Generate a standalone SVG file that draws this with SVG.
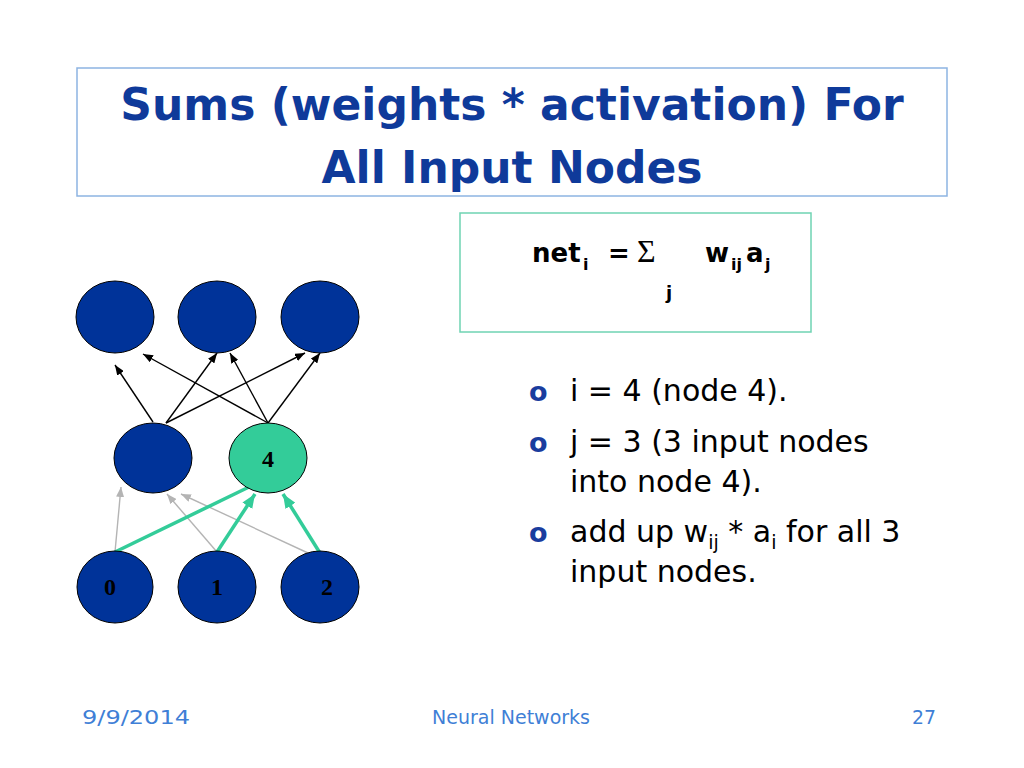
<svg xmlns="http://www.w3.org/2000/svg" width="1024" height="768" viewBox="0 0 1024 768">
<defs>
<style>
.title{font-family:"DejaVu Sans",sans-serif;font-weight:bold;font-size:44px;fill:#0f3a9a;text-anchor:middle}
.node{fill:#003399;stroke:#000;stroke-width:1}
.hot{fill:#33cc99;stroke:#000;stroke-width:1}
.lbl{font-family:"Liberation Serif",serif;font-weight:bold;font-size:24px;fill:#000;text-anchor:middle}
.blk{stroke:#000;stroke-width:1.4;fill:none;marker-end:url(#ab)}
.gry{stroke:#b4b4b4;stroke-width:1.4;fill:none;marker-end:url(#ag)}
.grn{stroke:#33cc99;stroke-width:3.5;fill:none}
.grnh{marker-end:url(#an)}
.f{font-family:"DejaVu Sans",sans-serif;font-weight:bold;fill:#000}
.b{font-family:"DejaVu Sans",sans-serif;font-size:30px;fill:#000}
.dot{font-family:"DejaVu Sans",sans-serif;font-weight:bold;font-size:27px;fill:#1a3d9e}
.ft{font-family:"DejaVu Sans",sans-serif;font-size:20px;fill:#3f7fd6}
</style>
<marker id="ab" viewBox="0 0 10 8" refX="10" refY="4" markerWidth="10" markerHeight="8" markerUnits="userSpaceOnUse" orient="auto"><path d="M0,0 L10,4 L0,8 z" fill="#000"/></marker>
<marker id="ag" viewBox="0 0 10 8" refX="10" refY="4" markerWidth="10" markerHeight="8" markerUnits="userSpaceOnUse" orient="auto"><path d="M0,0 L10,4 L0,8 z" fill="#b4b4b4"/></marker>
<marker id="an" viewBox="0 0 12 10" refX="12" refY="5" markerWidth="14" markerHeight="12" markerUnits="userSpaceOnUse" orient="auto"><path d="M0,0 L12,5 L0,10 z" fill="#33cc99"/></marker>
</defs>
<rect width="1024" height="768" fill="#fff"/>

<g id="title">
<rect x="77" y="68" width="870" height="128" fill="none" stroke="#8db4e2" stroke-width="1.5"/>
<text class="title" x="512" y="120">Sums (weights * activation) For</text>
<text class="title" x="512" y="183">All Input Nodes</text>
</g>

<g id="formula">
<rect x="460" y="213" width="351" height="119" fill="none" stroke="#6fd3b3" stroke-width="1.5"/>
<text class="f" x="532" y="262" font-size="26">net</text>
<text class="f" x="583" y="270" font-size="16">i</text>
<text class="f" x="608" y="262" font-size="26">=</text>
<text x="637" y="262" font-family="Liberation Serif,serif" font-size="32" fill="#000">Σ</text>
<text class="f" x="705" y="262" font-size="26">w</text>
<text class="f" x="731" y="270" font-size="16">ij</text>
<text class="f" x="746" y="262" font-size="26">a</text>
<text class="f" x="765" y="270" font-size="16">j</text>
<text class="f" x="666" y="299" font-size="18">j</text>
</g>

<g id="connectors">
<line class="blk" x1="153" y1="422" x2="115" y2="365"/>
<line class="blk" x1="166" y1="423" x2="217" y2="353"/>
<line class="blk" x1="166" y1="423" x2="305" y2="353"/>
<line class="blk" x1="268" y1="423" x2="143" y2="354"/>
<line class="blk" x1="268" y1="423" x2="230" y2="353"/>
<line class="blk" x1="268" y1="423" x2="320" y2="353"/>
<line class="gry" x1="115" y1="552" x2="121" y2="487"/>
<line class="gry" x1="217" y1="552" x2="167" y2="494"/>
<line class="gry" x1="308" y1="553" x2="181" y2="494"/>
<line class="grn" x1="115" y1="552" x2="249" y2="487"/>
<line class="grn grnh" x1="217" y1="552" x2="255" y2="494"/>
<line class="grn grnh" x1="320" y1="553" x2="283" y2="494"/>
</g>

<g id="out1"><ellipse class="node" cx="115" cy="317" rx="39" ry="36"/></g>
<g id="out2"><ellipse class="node" cx="217" cy="317" rx="39" ry="36"/></g>
<g id="out3"><ellipse class="node" cx="320" cy="317" rx="39" ry="36"/></g>
<g id="hid3"><ellipse class="node" cx="153" cy="458" rx="39" ry="35"/></g>
<g id="node4"><ellipse class="hot" cx="268" cy="458" rx="39" ry="35"/><text class="lbl" x="268" y="467">4</text></g>
<g id="in0"><ellipse class="node" cx="115" cy="587" rx="38" ry="36"/><text class="lbl" x="110" y="595">0</text></g>
<g id="in1"><ellipse class="node" cx="217" cy="587" rx="39" ry="36"/><text class="lbl" x="217" y="595">1</text></g>
<g id="in2"><ellipse class="node" cx="320" cy="587" rx="39" ry="36"/><text class="lbl" x="327" y="595">2</text></g>

<g id="bullets">
<text class="dot" x="529" y="401">o</text>
<text class="b" x="570" y="401">i = 4 (node 4).</text>
<text class="dot" x="529" y="452">o</text>
<text class="b" x="570" y="452">j = 3 (3 input nodes</text>
<text class="b" x="570" y="492">into node 4).</text>
<text class="dot" x="529" y="542">o</text>
<text class="b" x="570" y="542">add up w<tspan font-size="19" dy="7">ij</tspan><tspan dy="-7"> * a</tspan><tspan font-size="19" dy="7">i</tspan><tspan dy="-7"> for all 3</tspan></text>
<text class="b" x="570" y="582">input nodes.</text>
</g>

<g id="footer">
<text class="ft" x="82" y="724" textLength="108" lengthAdjust="spacingAndGlyphs">9/9/2014</text>
<text class="ft" x="432" y="724" textLength="158" lengthAdjust="spacingAndGlyphs">Neural Networks</text>
<text class="ft" x="912" y="724" textLength="24" lengthAdjust="spacingAndGlyphs">27</text>
</g>
</svg>
